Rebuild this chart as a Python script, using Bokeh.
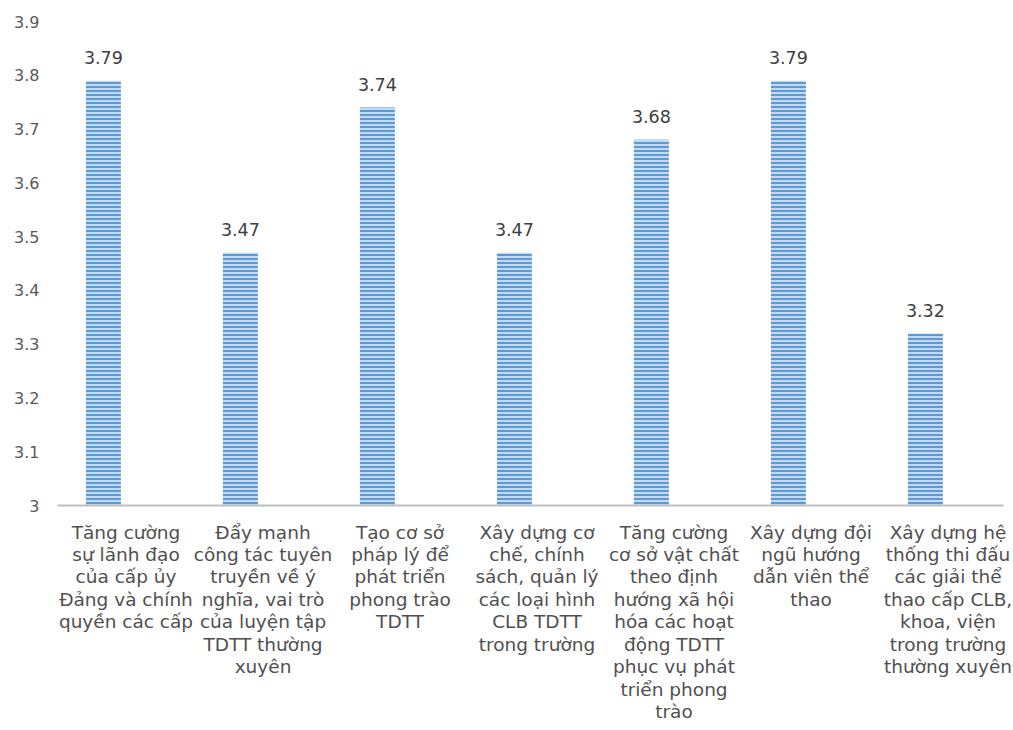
from bokeh.plotting import figure
from bokeh.models import FixedTicker, ColumnDataSource, Range1d
from bokeh.core.properties import value
from bokeh.transform import dodge
from bokeh.embed import file_html
from bokeh.resources import INLINE

categories = [
    "Tăng cường\nsự lãnh đạo\ncủa cấp ủy\nĐảng và chính\nquyền các cấp",
    "Đẩy mạnh\ncông tác tuyên\ntruyền về ý\nnghĩa, vai trò\ncủa luyện tập\nTDTT thường\nxuyên",
    "Tạo cơ sở\npháp lý để\nphát triển\nphong trào\nTDTT",
    "Xây dựng cơ\nchế, chính\nsách, quản lý\ncác loại hình\nCLB TDTT\ntrong trường",
    "Tăng cường\ncơ sở vật chất\ntheo định\nhướng xã hội\nhóa các hoạt\nđộng TDTT\nphục vụ phát\ntriển phong\ntrào",
    "Xây dựng đội\nngũ hướng\ndẫn viên thể\nthao",
    "Xây dựng hệ\nthống thi đấu\ncác giải thể\nthao cấp CLB,\nkhoa, viện\ntrong trường\nthường xuyên",
]
values = [3.79, 3.47, 3.74, 3.47, 3.68, 3.79, 3.32]
value_labels = ["3.79", "3.47", "3.74", "3.47", "3.68", "3.79", "3.32"]
y_ticks = [3.0, 3.1, 3.2, 3.3, 3.4, 3.5, 3.6, 3.7, 3.8, 3.9]
y_tick_labels = ["3", "3.1", "3.2", "3.3", "3.4", "3.5", "3.6", "3.7", "3.8", "3.9"]

FONT = "DejaVu Sans"
BAR_SHIFT = -0.165
xs = list(range(len(categories)))
src = ColumnDataSource(dict(x=xs, top=values, lbl=value_labels))

p = figure(width=1013, height=730, output_backend="svg", toolbar_location=None,
           x_range=Range1d(-0.5, 6.405), y_range=Range1d(3.0, 3.9),
           min_border_left=57, min_border_right=10, min_border_top=21,
           min_border_bottom=225)
p.outline_line_color = None
p.xgrid.visible = False
p.ygrid.visible = False

p.vbar(x=dodge("x", BAR_SHIFT), top="top", bottom=3.0, width=0.255, source=src,
       fill_color="#C3DAF2", line_color=None,
       hatch_pattern="horizontal_line", hatch_color="#5B9BD5",
       hatch_scale=4, hatch_weight=2)

p.text(x=dodge("x", BAR_SHIFT), y="top", text="lbl", source=src, y_offset=-23,
       text_align="center", text_baseline="alphabetic",
       text_font=value(FONT), text_font_size="17.5px", text_color="#404040")

# x axis
p.xaxis.ticker = FixedTicker(ticks=xs)
p.xaxis.major_label_overrides = {i: c for i, c in zip(xs, categories)}
p.xaxis.axis_line_color = "#BFBFBF"
p.xaxis.axis_line_width = 2
p.xaxis.major_tick_line_color = None
p.xaxis.minor_tick_line_color = None
p.xaxis.major_label_standoff = 10
p.xaxis.major_label_text_font = FONT
p.xaxis.major_label_text_font_size = "18.5px"
p.xaxis.major_label_text_color = "#505050"
p.xaxis.major_label_text_line_height = 1.07

# y axis
p.yaxis.ticker = FixedTicker(ticks=y_ticks)
p.yaxis.major_label_overrides = {t: l for t, l in zip(y_ticks, y_tick_labels)}
p.yaxis.axis_line_color = None
p.yaxis.major_tick_line_color = None
p.yaxis.minor_tick_line_color = None
p.yaxis.major_label_standoff = 12
p.yaxis.major_label_text_font = FONT
p.yaxis.major_label_text_font_size = "16px"
p.yaxis.major_label_text_color = "#595959"

open("out.html", "w").write(file_html(p, INLINE))
